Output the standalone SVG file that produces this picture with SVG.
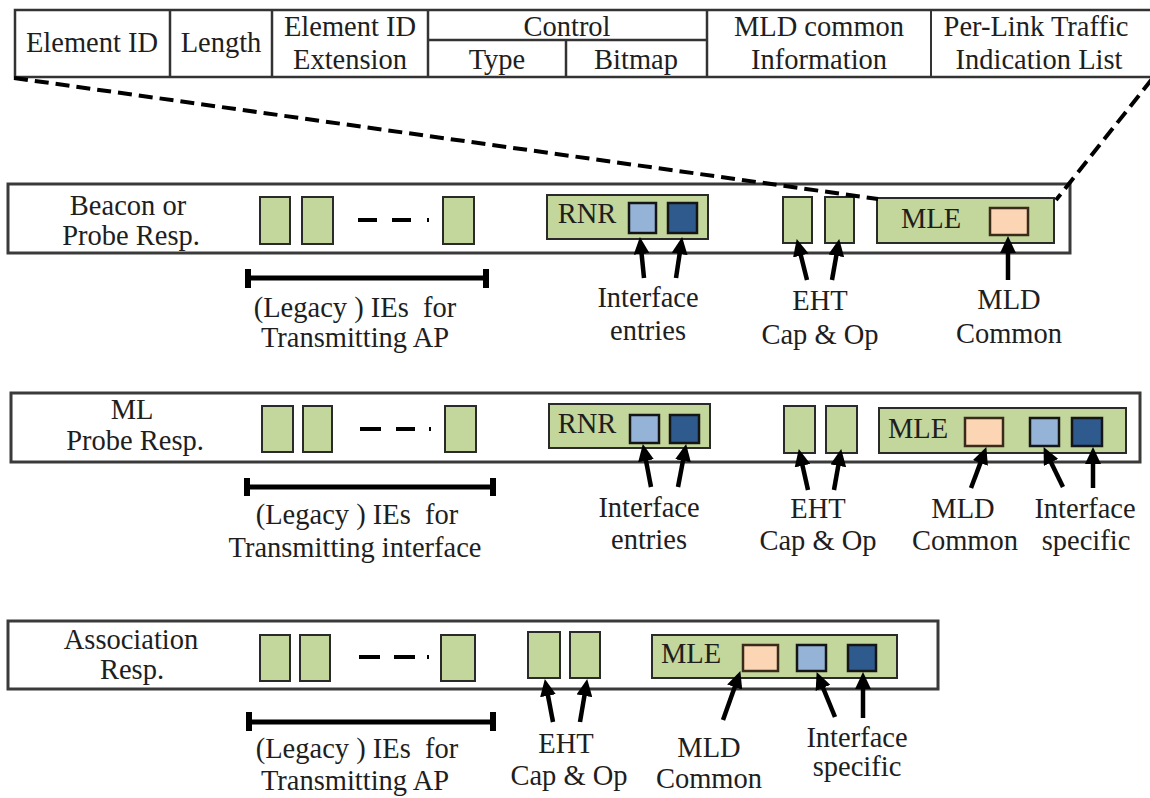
<svg xmlns="http://www.w3.org/2000/svg" width="1150" height="798" viewBox="0 0 1150 798">
<style>
.t{font-family:"Liberation Serif","Times New Roman",serif;font-size:28.5px;fill:#1e1e1e;text-anchor:middle}
.cell{fill:#fff;stroke:#333;stroke-width:2.5}
.frame{fill:#fff;stroke:#3a3a3a;stroke-width:3}
.g{fill:#c3d69b;stroke:#2a2a2a;stroke-width:2}
.lb{fill:#95b3d7;stroke:#151515;stroke-width:2.5}
.db{fill:#2f5a8d;stroke:#151515;stroke-width:2.5}
.pc{fill:#fcd5b5;stroke:#3a2a1a;stroke-width:2.5}
.arr{stroke:#000;stroke-width:4.5;fill:none;marker-end:url(#ah)}
.dash{stroke:#000;stroke-width:4;stroke-dasharray:14 7;fill:none}
.br{stroke:#000;stroke-width:5;fill:none}
.tick{fill:#000}
.dd{stroke:#000;stroke-width:4}
</style>
<defs>
<marker id="ah" markerUnits="userSpaceOnUse" markerWidth="18" markerHeight="16" refX="6" refY="8" orient="auto">
<path d="M0,0 L17,8 L0,16 z" fill="#000"/>
</marker>
</defs>
<rect width="1150" height="798" fill="#fff"/>

<g id="table">
<rect class="cell" x="15" y="10" width="1140" height="67"/>
<line x1="170" y1="10" x2="170" y2="77" stroke="#333" stroke-width="2.5"/>
<line x1="272" y1="10" x2="272" y2="77" stroke="#333" stroke-width="2.5"/>
<line x1="428" y1="10" x2="428" y2="77" stroke="#333" stroke-width="2.5"/>
<line x1="707" y1="10" x2="707" y2="77" stroke="#333" stroke-width="2.5"/>
<line x1="931" y1="10" x2="931" y2="77" stroke="#333" stroke-width="2"/>
<line x1="428" y1="40" x2="707" y2="40" stroke="#333" stroke-width="2.5"/>
<line x1="566" y1="40" x2="566" y2="77" stroke="#333" stroke-width="2.5"/>
<text class="t" x="92" y="52">Element ID</text>
<text class="t" x="221" y="52">Length</text>
<text class="t" x="350" y="36">Element ID</text>
<text class="t" x="350" y="69">Extension</text>
<text class="t" x="567" y="36">Control</text>
<text class="t" x="497" y="69">Type</text>
<text class="t" x="636" y="69">Bitmap</text>
<text class="t" x="819" y="36">MLD common</text>
<text class="t" x="819" y="69">Information</text>
<text class="t" x="1036" y="36">Per-Link Traffic</text>
<text class="t" x="1039" y="69">Indication List</text>
</g>

<g id="row1">
<rect class="frame" x="8" y="184" width="1062" height="69"/>
<text class="t" x="128" y="215">Beacon or</text>
<text class="t" x="131" y="245">Probe Resp.</text>
<rect class="g" x="260" y="197" width="30" height="47"/>
<rect class="g" x="302" y="197" width="31" height="47"/>
<line class="dd" x1="358" y1="220" x2="377" y2="220"/>
<line class="dd" x1="392" y1="220" x2="411" y2="220"/>
<rect x="427" y="218" width="2" height="4" fill="#000"/>
<rect class="g" x="443" y="197" width="31" height="47"/>
<g id="rnr1">
<rect class="g" x="547" y="195" width="161" height="44"/>
<text class="t" x="587" y="223">RNR</text>
<rect class="lb" x="629" y="203" width="27" height="30"/>
<rect class="db" x="668" y="203" width="29" height="30"/>
</g>
<rect class="g" x="783" y="197" width="29" height="46"/>
<rect class="g" x="825" y="197" width="29" height="46"/>
<g id="mle1">
<rect class="g" x="877" y="198" width="177" height="45"/>
<text class="t" x="931" y="228">MLE</text>
<rect class="pc" x="990" y="208" width="38" height="27"/>
</g>
<text class="t" x="355" y="317">(Legacy ) IEs&#160; for</text>
<text class="t" x="355" y="347">Transmitting AP</text>
<text class="t" x="648" y="307">Interface</text>
<text class="t" x="648" y="340">entries</text>
<text class="t" x="820" y="310">EHT</text>
<text class="t" x="820" y="344">Cap &amp; Op</text>
<text class="t" x="1009" y="309">MLD</text>
<text class="t" x="1009" y="343">Common</text>
</g>

<g id="row2">
<rect class="frame" x="11" y="393" width="1129" height="69"/>
<text class="t" x="132" y="419">ML</text>
<text class="t" x="135" y="450">Probe Resp.</text>
<rect class="g" x="262" y="406" width="31" height="46"/>
<rect class="g" x="303" y="406" width="29" height="46"/>
<line class="dd" x1="360" y1="429" x2="381" y2="429"/>
<line class="dd" x1="396" y1="429" x2="415" y2="429"/>
<rect x="429" y="427" width="2" height="4" fill="#000"/>
<rect class="g" x="445" y="406" width="31" height="46"/>
<g id="rnr2">
<rect class="g" x="549" y="404" width="161" height="44"/>
<text class="t" x="587" y="433">RNR</text>
<rect class="lb" x="630" y="415" width="29" height="28"/>
<rect class="db" x="670" y="415" width="29" height="28"/>
</g>
<rect class="g" x="784" y="406" width="31" height="47"/>
<rect class="g" x="826" y="406" width="31" height="47"/>
<g id="mle2">
<rect class="g" x="879" y="408" width="247" height="45"/>
<text class="t" x="918" y="438">MLE</text>
<rect class="pc" x="965" y="418" width="38" height="28"/>
<rect class="lb" x="1030" y="418" width="29" height="28"/>
<rect class="db" x="1072" y="418" width="30" height="28"/>
</g>
<text class="t" x="357" y="524">(Legacy ) IEs&#160; for</text>
<text class="t" x="355" y="557">Transmitting interface</text>
<text class="t" x="649" y="517">Interface</text>
<text class="t" x="649" y="549">entries</text>
<text class="t" x="818" y="518">EHT</text>
<text class="t" x="818" y="550">Cap &amp; Op</text>
<text class="t" x="963" y="518">MLD</text>
<text class="t" x="965" y="550">Common</text>
<text class="t" x="1085" y="518">Interface</text>
<text class="t" x="1086" y="550">specific</text>
</g>

<g id="row3">
<rect class="frame" x="8" y="621" width="930" height="68"/>
<text class="t" x="131" y="649">Association</text>
<text class="t" x="132" y="679">Resp.</text>
<rect class="g" x="260" y="635" width="30" height="46"/>
<rect class="g" x="300" y="635" width="30" height="46"/>
<line class="dd" x1="359" y1="657" x2="380" y2="657"/>
<line class="dd" x1="394" y1="657" x2="415" y2="657"/>
<rect x="427" y="655" width="2" height="4" fill="#000"/>
<rect class="g" x="441" y="635" width="34" height="46"/>
<rect class="g" x="528" y="632" width="32" height="46"/>
<rect class="g" x="570" y="632" width="30" height="46"/>
<g id="mle3">
<rect class="g" x="652" y="635" width="245" height="43"/>
<text class="t" x="691" y="663">MLE</text>
<rect class="pc" x="743" y="645" width="35" height="26"/>
<rect class="lb" x="797" y="645" width="29" height="26"/>
<rect class="db" x="848" y="645" width="28" height="26"/>
</g>
<text class="t" x="357" y="758">(Legacy ) IEs&#160; for</text>
<text class="t" x="355" y="790">Transmitting AP</text>
<text class="t" x="566" y="753">EHT</text>
<text class="t" x="569" y="785">Cap &amp; Op</text>
<text class="t" x="709" y="757">MLD</text>
<text class="t" x="709" y="788">Common</text>
<text class="t" x="857" y="747">Interface</text>
<text class="t" x="857" y="776">specific</text>
</g>

<g id="connectors">
<path class="dash" d="M14,78 L878,199"/>
<path class="dash" d="M1152,79 L1056,200"/>
<path class="br" d="M248,278 H486"/>
<rect class="tick" x="245" y="269" width="6" height="19"/>
<rect class="tick" x="483" y="269" width="6" height="19"/>
<path class="br" d="M247,487 H493"/>
<rect class="tick" x="244" y="478" width="6" height="18"/>
<rect class="tick" x="490" y="478" width="6" height="18"/>
<path class="br" d="M249,722 H493"/>
<rect class="tick" x="246" y="712" width="6" height="19"/>
<rect class="tick" x="490" y="712" width="6" height="19"/>
<path class="arr" d="M644,278 L641,248"/>
<path class="arr" d="M676,278 L680.5,248"/>
<path class="arr" d="M807,280 L799.4,249.7"/>
<path class="arr" d="M832,280 L837.3,249.9"/>
<path class="arr" d="M1008,280 L1008,247"/>
<path class="arr" d="M651,487 L644.9,454.8"/>
<path class="arr" d="M678,487 L684.1,454.8"/>
<path class="arr" d="M808,490 L801.2,459.8"/>
<path class="arr" d="M834,490 L839.3,459.9"/>
<path class="arr" d="M971,488 L982.5,457.4"/>
<path class="arr" d="M1063,487 L1048.4,457"/>
<path class="arr" d="M1093,488 L1093,458"/>
<path class="arr" d="M553,722 L546.9,689.8"/>
<path class="arr" d="M580,722 L585.4,689.9"/>
<path class="arr" d="M723,720 L736.7,681.4"/>
<path class="arr" d="M835,717 L820.8,682.3"/>
<path class="arr" d="M863,718 L863,683"/>
</g>
</svg>
